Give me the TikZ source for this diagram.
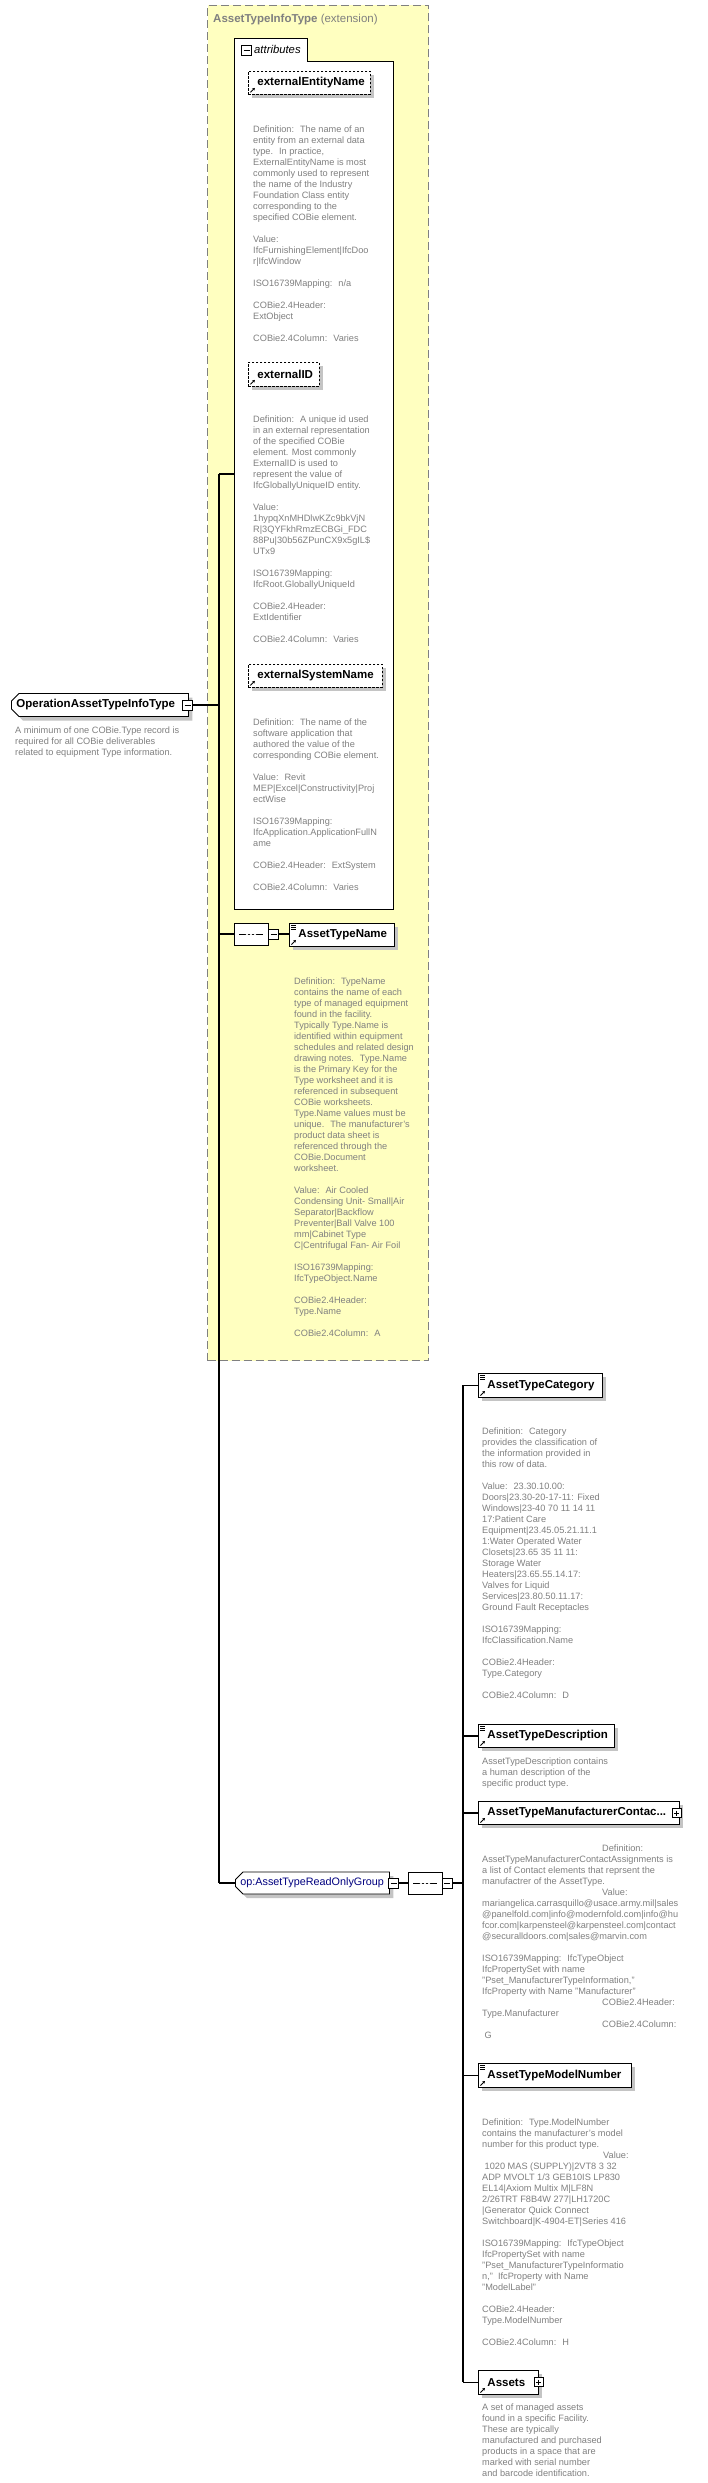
\documentclass[tikz,border=0pt]{standalone}
\usepackage{fontspec}
\setmainfont{Liberation Sans}
\usetikzlibrary{shapes.misc, shadows, arrows.meta}
\definecolor{extfill}{RGB}{255,255,192}
\definecolor{docgrey}{RGB}{128,128,128}
\definecolor{shadowgrey}{RGB}{196,196,196}
\tikzstyle{wire} = [line width=1.2pt]
\tikzstyle{boxshadow} = [drop shadow={shadow xshift=4pt, shadow yshift=-4pt, fill=shadowgrey, opacity=1}]
\tikzstyle{elem} = [draw, fill=white, line width=0.9pt, anchor=north west, inner xsep=9pt, inner ysep=0pt, minimum height=24pt, align=left, font=\fontsize{11.5}{13}\selectfont\bfseries, boxshadow]
\tikzstyle{refelem} = [elem, path picture={\draw[solid, line width=0.9pt, -{Stealth[length=2.6pt, width=3pt]}] ([shift={(2pt,2pt)}]path picture bounding box.south west) -- ++(4.5pt,4.5pt);}]
\tikzstyle{simpleelem} = [elem, path picture={
    \foreach \k in {2pt,3.8pt,5.6pt} \draw[solid, line width=0.6pt] ([shift={(2pt,-\k)}]path picture bounding box.north west) -- ++(5pt,0pt);
    \draw[solid, line width=0.9pt, -{Stealth[length=2.6pt, width=3pt]}] ([shift={(2pt,2pt)}]path picture bounding box.south west) -- ++(4.5pt,4.5pt);}]
\tikzstyle{attrelem} = [refelem, dash pattern=on 2.5pt off 1.5pt, line width=0.8pt]
\tikzstyle{minusbox} = [draw, fill=white, line width=1pt, minimum size=10pt, inner sep=0pt, path picture={\draw[line width=0.9pt] ([xshift=2pt]path picture bounding box.west) -- ([xshift=-2pt]path picture bounding box.east);}]
\tikzstyle{plusbox} = [draw, fill=white, line width=0.9pt, minimum size=9pt, inner sep=0pt, path picture={\draw[line width=0.9pt] ([xshift=2pt]path picture bounding box.west) -- ([xshift=-2pt]path picture bounding box.east) ([yshift=-2pt]path picture bounding box.north) -- ([yshift=2pt]path picture bounding box.south);}]
\tikzstyle{seqnode} = [chamfered rectangle, chamfered rectangle xsep=4pt, draw, fill=white, line width=0.9pt, minimum width=34pt, minimum height=22pt, inner sep=0pt, path picture={
    \draw[line width=0.9pt] ([xshift=5pt]path picture bounding box.west) -- ([xshift=-5pt]path picture bounding box.east);
    \foreach \d in {-4pt,0pt,4pt} \fill ([xshift=\d]path picture bounding box.center) circle (1.3pt);}]
\tikzstyle{rootnode} = [chamfered rectangle, chamfered rectangle corners={north west,south west}, chamfered rectangle xsep=4pt, draw, fill=white, line width=0.9pt, anchor=west, minimum height=23pt, inner sep=0pt, align=left, boxshadow]
\tikzstyle{doc} = [anchor=north west, inner sep=0pt, align=left, text=docgrey, font=\fontsize{9.2}{11}\selectfont]

\begin{document}
\begin{tikzpicture}[x=1pt, y=-1pt]
    \path[use as bounding box, fill=white] (0,0) rectangle (707,2483);
    % extension container
    \node (ext) [anchor=north west, minimum width=221pt, minimum height=1355pt, inner sep=0pt, fill=extfill, draw=docgrey, dash pattern=on 8pt off 4pt, line width=1pt] at (207,5) {};
    \node (extTitle) [anchor=base west, inner sep=0pt, text=docgrey, font=\fontsize{11.5}{13}\selectfont] at (213,23) {\textbf{AssetTypeInfoType} (extension)};
    % attributes group
    \node (attrs) [anchor=north west, minimum width=159pt, minimum height=848pt, inner sep=0pt, draw, fill=white, line width=0.9pt] at (234,61) {};
    \node (attrTab) [anchor=north west, minimum width=73pt, minimum height=23.6pt, inner sep=0pt, fill=white] at (234,38) {};
    \draw [line width=0.9pt] (attrTab.south west) |- (attrTab.north east) -- (attrTab.south east);
    \node (attrPM) [minusbox] at (246.7,50.5) {};
    \node (attrLabel) [anchor=base west, inner sep=0pt, font=\fontsize{11.3}{13}\selectfont\itshape] at (254,54) {attributes};

    \node (eEntity) [attrelem, text width=104pt, minimum height=23pt] at (248,71) {externalEntityName};
    \node (eEntityDoc) [doc] at (253,126) {Definition:~ The name of an\\entity from an external data\\type.~ In practice,\\ExternalEntityName is most\\commonly used to represent\\the name of the Industry\\Foundation Class entity\\corresponding to the\\specified COBie element.\\[11pt]Value:\\IfcFurnishingElement|IfcDoo\\r|IfcWindow\\[11pt]ISO16739Mapping:~ n/a\\[11pt]COBie2.4Header:\\ExtObject\\[11pt]COBie2.4Column:~ Varies};

    \node (eID) [attrelem, text width=53pt] at (248,362) {externalID};
    \node (eIDDoc) [doc] at (253,416) {Definition:~ A unique id used\\in an external representation\\of the specified COBie\\element. Most commonly\\ExternalID is used to\\represent the value of\\IfcGloballyUniqueID entity.\\[11pt]Value:\\1hypqXnMHDlwKZc9bkVjN\\R|3QYFkhRmzECBGi\_FDC\\88Pu|30b56ZPunCX9x5gIL\$\\UTx9\\[11pt]ISO16739Mapping:\\IfcRoot.GloballyUniqueId\\[11pt]COBie2.4Header:\\ExtIdentifier\\[11pt]COBie2.4Column:~ Varies};

    \node (eSystem) [attrelem, text width=116pt, minimum height=23pt] at (248,664) {externalSystemName};
    \node (eSystemDoc) [doc] at (253,719) {Definition:~ The name of the\\software application that\\authored the value of the\\corresponding COBie element.\\[11pt]Value:~ Revit\\MEP|Excel|Constructivity|Proj\\ectWise\\[11pt]ISO16739Mapping:\\IfcApplication.ApplicationFullN\\ame\\[11pt]COBie2.4Header:~ ExtSystem\\[11pt]COBie2.4Column:~ Varies};

    % first sequence
    \node (seq1) [seqnode] at (251,934) {};
    \node (atName) [simpleelem, text width=87pt, minimum height=23pt] at (289,923) {AssetTypeName};
    \node (seq1PM) [minusbox] at (273.5,934) {};
    \node (atNameDoc) [doc] at (294,978) {Definition:~ TypeName\\contains the name of each\\type of managed equipment\\found in the facility.\\Typically Type.Name is\\identified within equipment\\schedules and related design\\drawing notes.~ Type.Name\\is the Primary Key for the\\Type worksheet and it is\\referenced in subsequent\\COBie worksheets.\\Type.Name values must be\\unique.~ The manufacturer's\\product data sheet is\\referenced through the\\COBie.Document\\worksheet.\\[11pt]Value:~ Air Cooled\\Condensing Unit- Small|Air\\Separator|Backflow\\Preventer|Ball Valve 100\\mm|Cabinet Type\\C|Centrifugal Fan- Air Foil\\[11pt]ISO16739Mapping:\\IfcTypeObject.Name\\[11pt]COBie2.4Header:\\Type.Name\\[11pt]COBie2.4Column:~ A};

    % root element
    \node (root) [rootnode, minimum width=177pt, text width=167pt, font=\fontsize{11.5}{13}\selectfont\bfseries] at (11,705) {OperationAssetTypeInfoType};
    \node (rootPM) [minusbox] at (187.7,705) {};
    \node (rootDoc) [doc] at (15,727) {A minimum of one COBie.Type record is\\required for all COBie deliverables\\related to equipment Type information.};

    % read only group
    \node (op) [rootnode, minimum width=154pt, minimum height=22pt, text width=144pt, font=\fontsize{10.8}{13}\selectfont, text={rgb,255:red,0;green,0;blue,128}] at (235,1883) {op:AssetTypeReadOnlyGroup};
    \node (opPM) [minusbox] at (393.7,1883) {};
    \node (seq2) [seqnode] at (425,1883) {};
    \node (seq2PM) [minusbox] at (447.3,1883) {};

    \node (cat) [simpleelem, text width=106pt] at (478,1373) {AssetTypeCategory};
    \node (catDoc) [doc] at (482,1428) {Definition:~ Category\\provides the classification of\\the information provided in\\this row of data.\\[11pt]Value:~ 23.30.10.00:\\Doors|23.30-20-17-11: Fixed\\Windows|23-40 70 11 14 11\\17:Patient Care\\Equipment|23.45.05.21.11.1\\1:Water Operated Water\\Closets|23.65 35 11 11:\\Storage Water\\Heaters|23.65.55.14.17:\\Valves for Liquid\\Services|23.80.50.11.17:\\Ground Fault Receptacles\\[11pt]ISO16739Mapping:\\IfcClassification.Name\\[11pt]COBie2.4Header:\\Type.Category\\[11pt]COBie2.4Column:~ D};

    \node (desc) [simpleelem, text width=118pt, minimum height=23pt] at (478,1724) {AssetTypeDescription};
    \node (descDoc) [doc] at (482,1758) {AssetTypeDescription contains\\a human description of the\\specific product type.};

    \node (contac) [refelem, text width=183pt, minimum height=23pt] at (478,1801) {AssetTypeManufacturerContac...};
    \node (contacPM) [plusbox] at (676.5,1813) {};
    \node (contacDoc) [doc] at (482,1845) {\hspace*{120pt}Definition:\\AssetTypeManufacturerContactAssignments is\\a list of Contact elements that reprsent the\\manufactrer of the AssetType.\\\hspace*{120pt}Value:\\mariangelica.carrasquillo@usace.army.mil|sales\\@panelfold.com|info@modernfold.com|info@hu\\fcor.com|karpensteel@karpensteel.com|contact\\@securalldoors.com|sales@marvin.com\\[11pt]ISO16739Mapping:~ IfcTypeObject\\IfcPropertySet with name\\"Pset\_ManufacturerTypeInformation,"\\IfcProperty with Name "Manufacturer"\\\hspace*{120pt}COBie2.4Header:\\Type.Manufacturer\\\hspace*{120pt}COBie2.4Column:\\\hspace*{2.5pt}G};

    \node (model) [simpleelem, text width=135pt] at (478,2063) {AssetTypeModelNumber};
    \node (modelDoc) [doc] at (482,2119) {Definition:~ Type.ModelNumber\\contains the manufacturer's model\\number for this product type.\\\hspace*{121pt}Value:\\\hspace*{2.5pt}1020 MAS (SUPPLY)|2VT8 3 32\\ADP MVOLT 1/3 GEB10IS LP830\\EL14|Axiom Multix M|LF8N\\2/26TRT F8B4W 277|LH1720C\\|Generator Quick Connect\\Switchboard|K-4904-ET|Series 416\\[11pt]ISO16739Mapping:~ IfcTypeObject\\IfcPropertySet with name\\"Pset\_ManufacturerTypeInformatio\\n,"~ IfcProperty with Name\\"ModelLabel"\\[11pt]COBie2.4Header:\\Type.ModelNumber\\[11pt]COBie2.4Column:~ H};

    \node (assets) [refelem, text width=42pt] at (478,2370) {Assets};
    \node (assetsPM) [plusbox] at (538.5,2382) {};
    \node (assetsDoc) [doc] at (482,2404) {A set of managed assets\\found in a specific Facility.\\These are typically\\manufactured and purchased\\products in a space that are\\marked with serial number\\and barcode identification.};

    % connectors
    \coordinate (sp1) at (219,474);
    \coordinate (sp2) at (219,1883);
    \coordinate (sp3) at (463,1385);
    \coordinate (sp4) at (463,2382);
    \draw [wire] (sp1) -- (sp2);
    \draw [wire] (rootPM.east) -- (rootPM.east -| sp1);
    \draw [wire] (sp1) -- (sp1 -| attrs.west);
    \draw [wire] (seq1.west -| sp1) -- (seq1.west);
    \draw [wire] (seq1PM.east) -- (seq1PM.east -| atName.west);
    \draw [wire] (sp2) -- (op.west);
    \draw [wire] (opPM.east) -- (seq2.west);
    \draw [wire] (seq2PM.east) -- (seq2PM.east -| sp3);
    \draw [wire] (sp3) -- (sp4);
    \foreach \c in {cat, desc, contac, model, assets}
        \draw [wire] (\c.west -| sp3) -- (\c.west);
\end{tikzpicture}
\end{document}
